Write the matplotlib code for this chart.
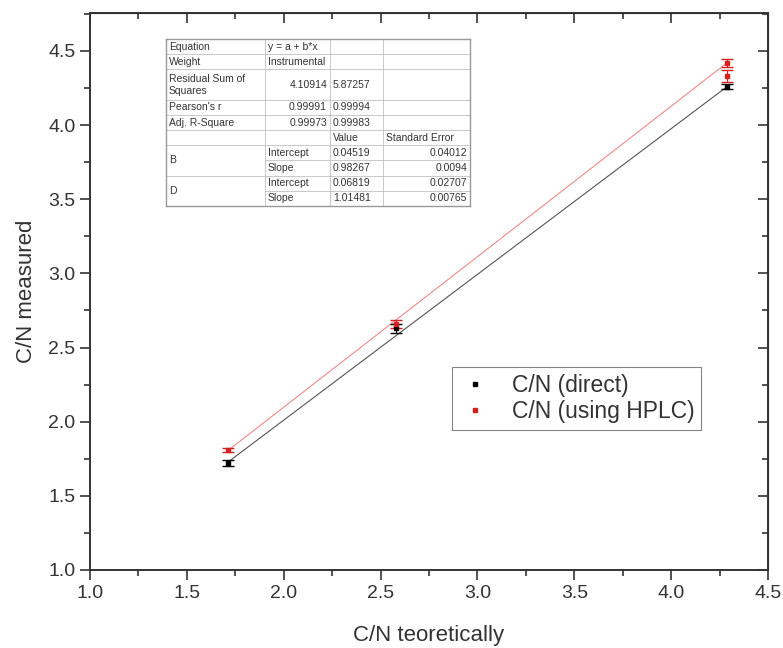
import numpy as np
import matplotlib.pyplot as plt
from matplotlib.ticker import MultipleLocator

plt.rcParams['font.family'] = ['Liberation Sans', 'DejaVu Sans']

# data
x_direct = [1.71, 2.58, 4.29]
y_direct = [1.72, 2.63, 4.26]
err_direct = [0.02, 0.03, 0.015]

x_hplc = [1.71, 2.58, 4.29, 4.29]
y_hplc = [1.81, 2.66, 4.42, 4.33]
err_hplc = [0.015, 0.025, 0.025, 0.04]

# linear fits (from the table)
fit_b = (0.04519, 0.98267)
fit_d = (0.06819, 1.01481)

# fit table text
table_rows = [
    ["Equation", "y = a + b*x", "", ""],
    ["Weight", "Instrumental", "", ""],
    ["Residual Sum of\nSquares", "4.10914", "5.87257", ""],
    ["Pearson's r", "0.99991", "0.99994", ""],
    ["Adj. R-Square", "0.99973", "0.99983", ""],
    ["", "", "Value", "Standard Error"],
    ["B", "Intercept", "0.04519", "0.04012"],
    ["", "Slope", "0.98267", "0.0094"],
    ["D", "Intercept", "0.06819", "0.02707"],
    ["", "Slope", "1.01481", "0.00765"],
]

W, H = 783.0, 648.0
fig = plt.figure(figsize=(7.83, 6.48), dpi=100)
ax = fig.add_axes([90 / W, 1 - 570 / H, 678 / W, 557 / H])

xf = np.array([1.71, 4.29])
ax.plot(xf, fit_b[0] + fit_b[1] * xf, color='#555555', lw=0.8)
ax.plot(xf, fit_d[0] + fit_d[1] * xf, color='#f08a8a', lw=0.8)

ax.errorbar(x_direct, y_direct, yerr=err_direct, fmt='s', ms=3, color='black',
            ecolor='black', elinewidth=0.8, capsize=4, label='C/N (direct)')
ax.errorbar(x_hplc, y_hplc, yerr=err_hplc, fmt='s', ms=3, color='#d62020',
            ecolor='#d62020', elinewidth=0.8, capsize=4, label='C/N (using HPLC)')

ax.set_xlim(1.0, 4.5)
ax.set_ylim(1.0, 4.756)
ax.xaxis.set_major_locator(MultipleLocator(0.5))
ax.xaxis.set_minor_locator(MultipleLocator(0.25))
ax.yaxis.set_major_locator(MultipleLocator(0.5))
ax.yaxis.set_minor_locator(MultipleLocator(0.25))
ax.tick_params(which='both', direction='out', top=False, right=False,
               labelsize=14, width=1.2, colors='#333333', labelcolor='#333333')
ax.tick_params(which='major', length=7)
ax.tick_params(which='minor', length=4)
ax.tick_params(axis='x', pad=4)
for s in ax.spines.values():
    s.set_linewidth(1.4)
    s.set_color('#333333')

# inward ticks on top and right
sec_x = ax.secondary_xaxis('top')
sec_x.xaxis.set_major_locator(MultipleLocator(0.5))
sec_x.xaxis.set_minor_locator(MultipleLocator(0.25))
sec_x.tick_params(which='both', direction='in', labeltop=False, width=1.2, colors='#333333')
sec_x.tick_params(which='major', length=7)
sec_x.tick_params(which='minor', length=4)
sec_y = ax.secondary_yaxis('right')
sec_y.yaxis.set_major_locator(MultipleLocator(0.5))
sec_y.yaxis.set_minor_locator(MultipleLocator(0.25))
sec_y.tick_params(which='both', direction='in', labelright=False, width=1.2, colors='#333333')
sec_y.tick_params(which='major', length=7)
sec_y.tick_params(which='minor', length=4)

ax.set_xlabel('C/N teoretically', fontsize=16, color='#333333', labelpad=16)
ax.set_ylabel('C/N measured', fontsize=16, color='#333333', labelpad=8)

handles, labels = ax.get_legend_handles_labels()
handles = [h[0] for h in handles]
leg = ax.legend(handles, labels, loc='upper left',
                bbox_to_anchor=((452 - 90) / 678, (570 - 367) / 557),
                borderaxespad=0.0,
                fontsize=16.5, frameon=True, fancybox=False, edgecolor='#666666',
                handlelength=1.4, handletextpad=0.9, borderpad=0.3, labelspacing=0.15,
                markerscale=0.8)
leg.get_frame().set_linewidth(0.8)
for t in leg.get_texts():
    t.set_color('#333333')

# fit table drawn in figure pixels
col_x = [166, 265, 330, 383, 470]
unit = (206 - 39) / 11.0
row_h = [unit, unit, 2 * unit, unit, unit, unit, unit, unit, unit, unit]
top = 39
grid_kw = dict(color='#c0c0c0', lw=0.6, transform=fig.transFigure)
row_tops = []
y = top
for h in row_h:
    row_tops.append(y)
    y += h
bottom = y
for i, row in enumerate(table_rows):
    yt = row_tops[i]
    yb = yt + row_h[i]
    # horizontal line below row (skip inside merged B/D cells for col 0)
    x_start = col_x[1] if i in (6, 8) else col_x[0]
    fig.add_artist(plt.Line2D([x_start / W, col_x[-1] / W], [1 - yb / H] * 2, **grid_kw))
    for j, txt in enumerate(row):
        if not txt:
            continue
        numeric = txt[0].isdigit()
        ym = yb if (j == 0 and txt in ('B', 'D')) else (yt + yb) / 2
        if numeric and j in (1, 3):
            fig.text((col_x[j + 1] - 3) / W, 1 - ym / H, txt, fontsize=7.5, ha='right', va='center',
                     color='#333333', linespacing=1.25)
        else:
            fig.text((col_x[j] + 3) / W, 1 - ym / H, txt, fontsize=7.5, ha='left', va='center',
                     color='#333333', linespacing=1.25)
for cx in col_x[1:-1]:
    fig.add_artist(plt.Line2D([cx / W] * 2, [1 - top / H, 1 - bottom / H], **grid_kw))
# outer border a bit darker
for ys in (top, bottom):
    fig.add_artist(plt.Line2D([col_x[0] / W, col_x[-1] / W], [1 - ys / H] * 2, color='#999999', lw=1.0,
                              transform=fig.transFigure))
for cx in (col_x[0], col_x[-1]):
    fig.add_artist(plt.Line2D([cx / W] * 2, [1 - top / H, 1 - bottom / H], color='#999999', lw=1.0,
                              transform=fig.transFigure))

fig.savefig('out.png', dpi=100)
